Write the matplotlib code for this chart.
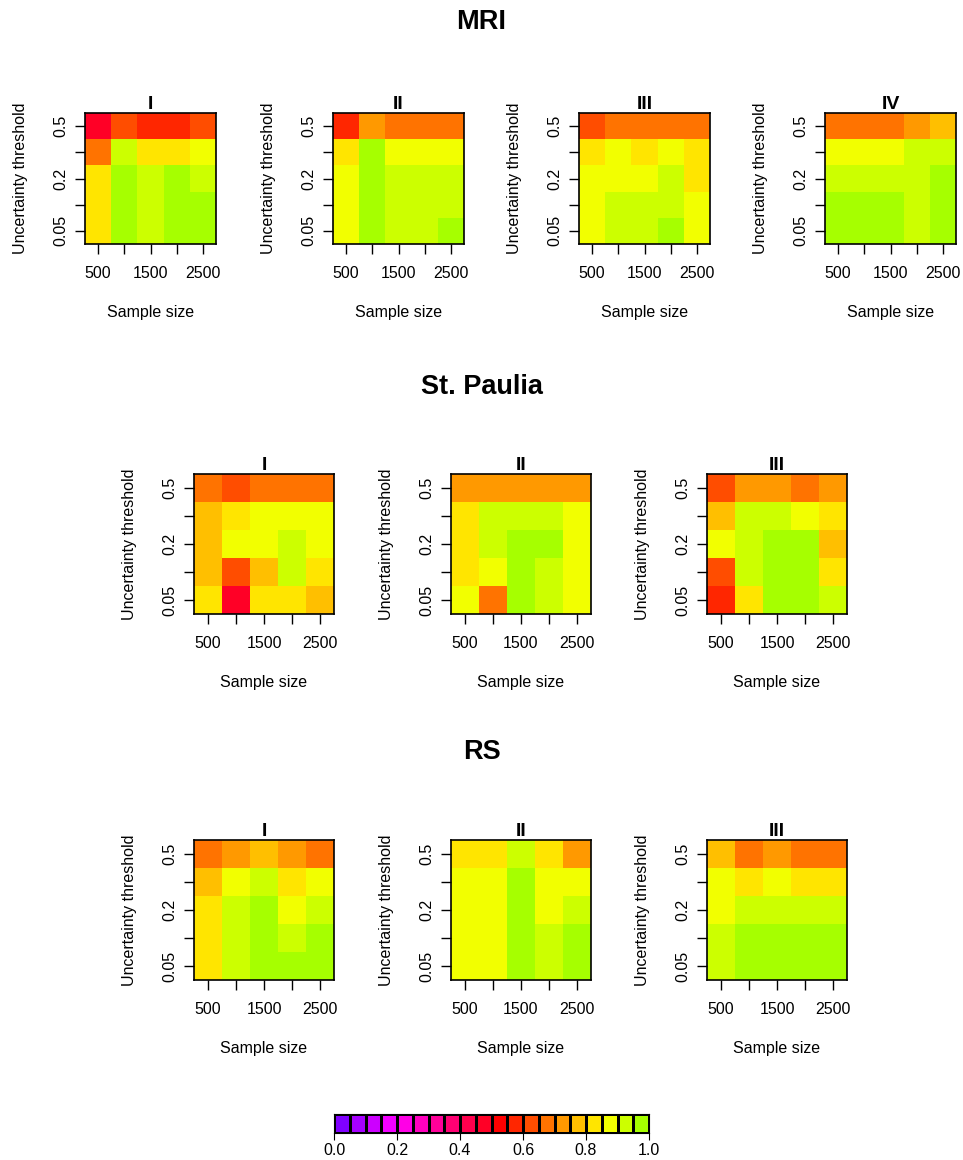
import numpy as np
import matplotlib
matplotlib.use("Agg")
import matplotlib.pyplot as plt
from matplotlib.colors import ListedColormap, BoundaryNorm, hsv_to_rgb

# -------------------------------------------------------
# Data (rows listed top -> bottom, i.e. threshold 0.5 first)
# -------------------------------------------------------
sample_sizes = [500, 1000, 1500, 2000, 2500]
thresholds = [0.05, 0.1, 0.2, 0.3, 0.5]

mri_1 = [[0.475, 0.625, 0.575, 0.575, 0.625],
         [0.675, 0.925, 0.825, 0.825, 0.875],
         [0.825, 0.975, 0.925, 0.975, 0.925],
         [0.825, 0.975, 0.925, 0.975, 0.975],
         [0.825, 0.975, 0.925, 0.975, 0.975]]
mri_2 = [[0.575, 0.725, 0.675, 0.675, 0.675],
         [0.825, 0.975, 0.875, 0.875, 0.875],
         [0.875, 0.975, 0.925, 0.925, 0.925],
         [0.875, 0.975, 0.925, 0.925, 0.925],
         [0.875, 0.975, 0.925, 0.925, 0.975]]
mri_3 = [[0.625, 0.675, 0.675, 0.675, 0.675],
         [0.825, 0.875, 0.825, 0.875, 0.825],
         [0.875, 0.875, 0.875, 0.925, 0.825],
         [0.875, 0.925, 0.925, 0.925, 0.875],
         [0.875, 0.925, 0.925, 0.975, 0.875]]
mri_4 = [[0.675, 0.675, 0.675, 0.725, 0.775],
         [0.875, 0.875, 0.875, 0.925, 0.925],
         [0.925, 0.925, 0.925, 0.925, 0.975],
         [0.975, 0.975, 0.975, 0.925, 0.975],
         [0.975, 0.975, 0.975, 0.925, 0.975]]

stp_1 = [[0.675, 0.625, 0.675, 0.675, 0.675],
         [0.775, 0.825, 0.875, 0.875, 0.875],
         [0.775, 0.875, 0.875, 0.925, 0.875],
         [0.775, 0.625, 0.775, 0.925, 0.825],
         [0.825, 0.475, 0.825, 0.825, 0.775]]
stp_2 = [[0.725, 0.725, 0.725, 0.725, 0.725],
         [0.825, 0.925, 0.925, 0.925, 0.875],
         [0.825, 0.925, 0.975, 0.975, 0.875],
         [0.825, 0.875, 0.975, 0.925, 0.875],
         [0.875, 0.675, 0.975, 0.925, 0.875]]
stp_3 = [[0.625, 0.725, 0.725, 0.675, 0.725],
         [0.775, 0.925, 0.925, 0.875, 0.825],
         [0.875, 0.925, 0.975, 0.975, 0.775],
         [0.625, 0.925, 0.975, 0.975, 0.825],
         [0.575, 0.825, 0.975, 0.975, 0.925]]

rs_1 = [[0.675, 0.725, 0.775, 0.725, 0.675],
        [0.775, 0.875, 0.925, 0.825, 0.875],
        [0.825, 0.925, 0.975, 0.875, 0.925],
        [0.825, 0.925, 0.975, 0.925, 0.975],
        [0.825, 0.925, 0.975, 0.975, 0.975]]
rs_2 = [[0.825, 0.825, 0.925, 0.825, 0.725],
        [0.875, 0.875, 0.975, 0.875, 0.875],
        [0.875, 0.875, 0.975, 0.875, 0.925],
        [0.875, 0.875, 0.975, 0.925, 0.975],
        [0.875, 0.875, 0.975, 0.925, 0.975]]
rs_3 = [[0.775, 0.675, 0.725, 0.675, 0.675],
        [0.875, 0.825, 0.875, 0.825, 0.825],
        [0.875, 0.925, 0.925, 0.925, 0.925],
        [0.925, 0.975, 0.975, 0.975, 0.975],
        [0.925, 0.975, 0.975, 0.975, 0.975]]

groups = [
    ("MRI", ["I", "II", "III", "IV"], [mri_1, mri_2, mri_3, mri_4]),
    ("St. Paulia", ["I", "II", "III"], [stp_1, stp_2, stp_3]),
    ("RS", ["I", "II", "III"], [rs_1, rs_2, rs_3]),
]

# -------------------------------------------------------
# Colour scale: 20 steps, hue from purple through red to green
# -------------------------------------------------------
n_col = 20
hues = (0.75 + 0.025 * np.arange(n_col)) % 1.0
cols = hsv_to_rgb(np.column_stack([hues, np.ones(n_col), np.ones(n_col)]))
cmap = ListedColormap(cols)
breaks = np.linspace(0, 1, n_col + 1)
norm = BoundaryNorm(breaks, n_col)

# -------------------------------------------------------
# Layout (pixel boxes)
# -------------------------------------------------------
W, H = 963, 1160
fig = plt.figure(figsize=(W / 100, H / 100), dpi=100)
plt.rcParams["font.family"] = ["Liberation Sans", "DejaVu Sans"]

FS = 11.5


def px_axes(x0, y0, x1, y1):
    return fig.add_axes([x0 / W, 1 - y1 / H, (x1 - x0) / W, (y1 - y0) / H])


row_boxes = [
    (113, 244, [85, 333, 579, 825], 131),
    (474, 614, [194, 451, 707], 140),
    (840, 980, [194, 451, 707], 140),
]
group_title_y = [22, 387, 752]

x_edges = np.arange(250, 2751, 500)
y_edges = np.arange(0.5, 5.6, 1.0)

for (name, labels, mats), (y0, y1, xs, size), ty in zip(groups, row_boxes, group_title_y):
    fig.text(0.5, 1 - ty / H, name, ha="center", va="center",
             fontsize=19.5, fontweight="bold")
    for lab, mat, x0 in zip(labels, mats, xs):
        ax = px_axes(x0, y0, x0 + size, y1)
        z = np.flipud(np.array(mat))
        ax.pcolormesh(x_edges, y_edges, z, cmap=cmap, norm=norm)
        ax.set_xlim(250, 2750)
        ax.set_ylim(0.5, 5.5)
        ax.set_xticks(sample_sizes)
        ax.set_xticklabels([str(s) if i % 2 == 0 else "" for i, s in enumerate(sample_sizes)])
        ax.set_yticks(range(1, 6))
        ax.set_yticklabels([str(t) if i % 2 == 0 else "" for i, t in enumerate(thresholds)],
                           rotation=90, va="center")
        ax.tick_params(direction="out", length=7, width=1, labelsize=FS, pad=9)
        ax.tick_params(axis="y", pad=5)
        for sp in ax.spines.values():
            sp.set_linewidth(1.2)
        ax.set_title(lab, fontsize=14, fontweight="bold", pad=2)
        ax.set_xlabel("Sample size", fontsize=FS, labelpad=17)
        ax.set_ylabel("Uncertainty threshold", fontsize=FS, labelpad=18)

# -------------------------------------------------------
# Colour bar
# -------------------------------------------------------
cax = px_axes(334, 1114, 649, 1133)
cax.pcolormesh(breaks, [0, 1], breaks[:-1].reshape(1, -1) + 0.025,
               cmap=cmap, norm=norm, edgecolor="black", linewidth=0.8)
cax.set_xlim(0, 1)
cax.set_ylim(0, 1)
cax.set_yticks([])
cax.set_xticks(np.linspace(0, 1, 6))
cax.set_xticklabels([f"{v:.1f}" for v in np.linspace(0, 1, 6)])
cax.tick_params(direction="out", length=5, labelsize=FS, pad=2)

fig.savefig("out.png", dpi=100)
